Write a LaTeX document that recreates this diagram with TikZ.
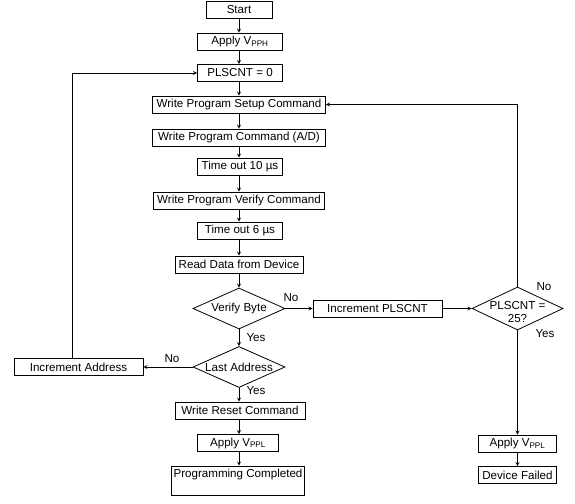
\documentclass[tikz,border=0pt]{standalone}
\usepackage{fontspec}
\setmainfont{Liberation Sans}
\usetikzlibrary{shapes.geometric}

\tikzset{
  stepbox/.style={draw, line width=0.8pt, minimum height=17pt, inner sep=2pt},
  test/.style={draw, diamond, line width=0.8pt, aspect=2.2, inner sep=0pt,
    minimum width=92pt, minimum height=41pt},
}

\begin{document}
\begin{tikzpicture}[x=1pt, y=-1pt, >=stealth, line width=0.8pt,
    every node/.style={font=\fontsize{11.6}{13}\selectfont}]
  \useasboundingbox (0,0) rectangle (575,503);
  % main column
  \node[stepbox, minimum width=66pt] (start) at (239,9.5) {Start};
  \node[stepbox, minimum width=85pt] (vpph) at (240,41.5) {Apply V\textsubscript{PPH}};
  \node[stepbox, minimum width=85pt] (zero) at (240,73) {PLSCNT = 0};
  \node[stepbox, minimum width=173pt] (setup) at (239,104.5) {Write Program Setup Command};
  \node[stepbox, minimum width=173pt] (prog) at (239,137.5) {Write Program Command (A/D)};
  \node[stepbox, minimum width=85pt] (wait10) at (240,166.5) {Time out 10 µs};
  \node[stepbox, minimum width=171pt] (verify) at (239,200.5) {Write Program Verify Command};
  \node[stepbox, minimum width=85pt] (wait6) at (240,230.5) {Time out 6 µs};
  \node[stepbox, minimum width=128pt] (read) at (239,264.5) {Read Data from Device};
  \node[test] (vbyte) at (239,308.5) {Verify Byte};
  \node[test] (last) at (239,367) {Last Address};
  \node[stepbox, minimum width=130pt] (reset) at (240,410.5) {Write Reset Command};
  \node[stepbox, minimum width=81pt] (vppl) at (238,443) {Apply V\textsubscript{PPL}};
  \node[draw, minimum width=130pt, inner xsep=2pt, inner ysep=2pt,
    text height=9pt, text depth=16pt] (done) at (238,480.5) {Programming Completed};
  % side branches
  \node[stepbox, minimum width=129pt] (incaddr) at (78.5,367) {Increment Address};
  \node[stepbox, minimum width=129pt] (incpls) at (377.5,308.5) {Increment PLSCNT};
  \node[test, minimum width=91pt, minimum height=43pt] (max) at (517.5,308.5) {};
  \node[align=center, inner sep=0pt] (maxtext) at ([yshift=-4pt]max.center) {PLSCNT =\\25?};
  \node[stepbox, minimum width=78pt] (vppl2) at (517.5,443.5) {Apply V\textsubscript{PPL}};
  \node[stepbox, minimum width=78pt] (fail) at (517.5,475) {Device Failed};

  \foreach \a/\b in {start/vpph, vpph/zero, zero/setup, setup/prog, prog/wait10,
      wait10/verify, verify/wait6, wait6/read, read/vbyte, vbyte/last, last/reset,
      reset/vppl, vppl/done}
    \draw[->] (\a.south -| start) -- (\b.north -| start);
  \draw[->] (max.south) -- (vppl2.north -| max);
  \draw[->] (vppl2.south -| max) -- (fail.north -| max);
  \draw[->] (vbyte.east) -- (incpls.west);
  \draw[->] (incpls.east) -- (max.west);
  \draw[->] (max.north) |- (setup.east);
  \draw[->] (last.west) -- (incaddr.east);
  \draw[->] ([xshift=-6pt]incaddr.north) |- (zero.west);

  \node (vbno) at (291,298) {No};
  \node (vbyes) at (256,338) {Yes};
  \node (lastno) at (172,359) {No};
  \node (lastyes) at (256,391) {Yes};
  \node (maxno) at (544,287) {No};
  \node (maxyes) at (545,334) {Yes};
\end{tikzpicture}
\end{document}
